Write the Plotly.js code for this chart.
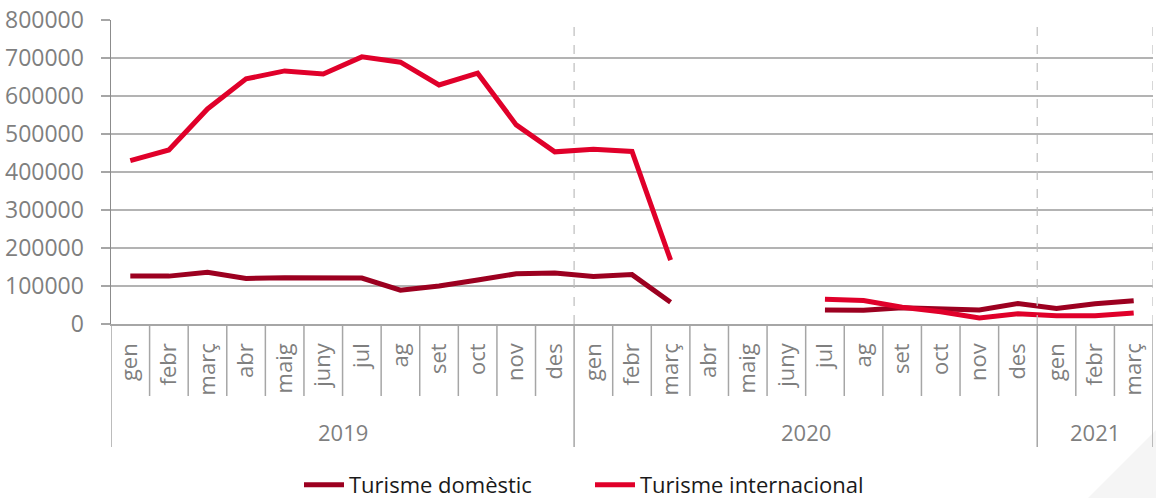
<!DOCTYPE html>
<html>
<head>
<meta charset="utf-8">
<script src="https://cdn.plot.ly/plotly-3.0.1.min.js"></script>
<style>html,body{margin:0;padding:0;background:#fff;}#chart{width:1156px;height:498px;}</style>
</head>
<body>
<div id="chart"></div>
<script>
const months = ['gen','febr','març','abr','maig','juny','jul','ag','set','oct','nov','des'];
const years = ['2019','2020','2021'];
const monthsPerYear = [12, 12, 3];

const domestic2019 = [126000,126000,136000,120000,122000,123000,121000,89000,100000,116000,132000,134000];
const domestic2020 = [125000,130000,57000,null,null,null,37000,36000,43000,41000,37000,54000];
const domestic2021 = [41000,53000,61000];

const international2019 = [430000,458000,566000,645000,666000,658000,703000,689000,629000,660000,524000,453000];
const international2020 = [460000,454000,168000,null,null,null,65000,62000,44000,32000,16000,27000];
const international2021 = [22000,22000,29000];

const monthCat = [];
years.forEach((y, yi) => { for (let m = 0; m < monthsPerYear[yi]; m++) monthCat.push(months[m]); });
const xIdx = monthCat.map((_, i) => i);
const domestic = domestic2019.concat(domestic2020, domestic2021);
const international = international2019.concat(international2020, international2021);
const n = monthCat.length;

const gray = '#a6a6a6';
const traces = [
  {type:'scatter', mode:'lines', name:'Turisme domèstic', x:xIdx, y:domestic,
   line:{color:'#9c0020', width:5}, connectgaps:false},
  {type:'scatter', mode:'lines', name:'Turisme internacional', x:xIdx, y:international,
   line:{color:'#e0002a', width:5}, connectgaps:false}
];

// plot geometry (px) for decoration placement
const plotH = 304, plotW = 1042, plotL = 111, plotB = 324;
const shapes = [];
const annotations = [];
let start = 0;
const boundaries = [-0.5];
years.forEach((y, yi) => {
  const c = monthsPerYear[yi];
  annotations.push({xref:'x', yref:'paper', x:start + (c - 1) / 2, y:-108/plotH, yanchor:'middle',
                    text:y, showarrow:false, font:{size:22, color:'#7f7f7f'}});
  start += c;
  boundaries.push(start - 0.5);
});
for (let i = 0; i < n - 1; i++) {
  const b = i + 0.5;
  if (boundaries.indexOf(b) >= 0) continue;
  shapes.push({type:'line', xref:'x', yref:'paper', x0:b, x1:b, y0:0, y1:-72/plotH, line:{color:gray, width:1.5}});
}
boundaries.forEach((b, k) => {
  shapes.push({type:'line', xref:'x', yref:'paper', x0:b, x1:b, y0:0, y1:-123/plotH, line:{color:gray, width:1.5}});
  if (k > 0) shapes.push({type:'line', xref:'x', yref:'paper', x0:b, x1:b, y0:0, y1:1, line:{color:'#bdbdbd', width:1.2, dash:'dash'}});
});
// faint watermark wedge bottom-right
const px = v => (v - plotL) / plotW, py = v => (plotB - v) / plotH;
shapes.push({type:'path', xref:'paper', yref:'paper', layer:'below', line:{width:0}, fillcolor:'#f5f5f5',
  path:`M${px(1088)},${py(498)} L${px(1156)},${py(430)} L${px(1156)},${py(498)} Z`});

const layout = {
  width:1156, height:498,
  margin:{l:111, r:3, t:20, b:174, autoexpand:false},
  paper_bgcolor:'#fff', plot_bgcolor:'#fff',
  font:{family:'Open Sans, sans-serif', color:'#7f7f7f', size:22},
  showlegend:true,
  legend:{orientation:'h', x:0.5 - 42/plotW, xanchor:'center', y:-161/plotH, yanchor:'middle',
          font:{size:22, color:'#1a1a1a'}, itemwidth:40, tracegroupgap:0,
          entrywidth:236, entrywidthmode:'pixels'},
  xaxis:{range:[-0.5, n - 0.5], autorange:false, automargin:false,
         tickmode:'array', tickvals:xIdx, ticktext:monthCat,
         tickangle:-90, showgrid:false, zeroline:false,
         showline:true, linecolor:gray, linewidth:1.5, ticks:'', ticklabelstandoff:9,
         tickfont:{size:22, color:'#7f7f7f'}},
  yaxis:{range:[0,800000], dtick:100000, tickformat:'d', showgrid:true, gridcolor:'#b3b3b3', gridwidth:1.5,
         zeroline:false, showline:true, linecolor:'#8c8c8c', linewidth:1.5, automargin:false,
         ticks:'outside', ticklen:9, tickcolor:gray, tickwidth:1.5, ticklabelstandoff:12,
         tickfont:{size:23, color:'#7f7f7f'}},
  shapes:shapes,
  annotations:annotations
};
Plotly.newPlot('chart', traces, layout, {displayModeBar:false, staticPlot:true});
</script>
</body>
</html>
